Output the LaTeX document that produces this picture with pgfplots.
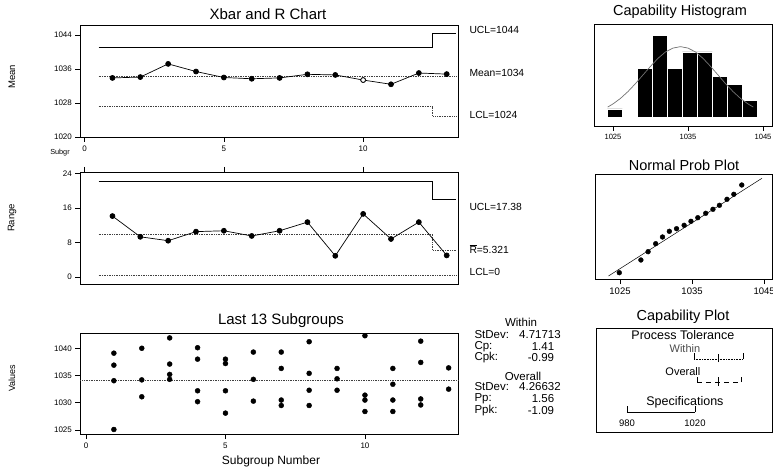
\documentclass[border=0pt]{standalone}
\usepackage{fontspec}
\setmainfont{Liberation Sans}
\usepackage{pgfplots}
\pgfplotsset{compat=1.18}
\newcommand{\fs}[1]{\fontsize{#1}{#1}\selectfont}
\pgfplotsset{
  six/.style={scale only axis, anchor=north west,
    axis line style={line width=0.9pt},
    tick style={black, line width=0.6pt},
    tick align=outside, major tick length=5pt,
    tick label style={font=\fs{8}},
    /pgf/number format/assume math mode=true,
    /pgf/number format/set thousands separator={},
    clip=false},
  lim/.style={black, line width=0.6pt},
  cen/.style={black!75, line width=0.7pt, densely dotted},
  pt/.style={black, line width=0.7pt, mark=*, mark size=2.5pt, mark options={solid, fill=black}},
}
\begin{document}
\begin{tikzpicture}
\path[use as bounding box] (0pt,0pt) rectangle (773pt,-470pt);
% ---------------- Xbar chart
\begin{axis}[six, at={(80.4pt,-25pt)}, width=378pt, height=112pt,
  xmin=-0.151, xmax=13.42, ymin=1020, ymax=1046.35,
  xtick={0,5,10}, ytick={1020,1028,1036,1044}, xtick pos=bottom, ytick pos=left]
\addplot[lim] coordinates {(0.5,1041.1)(12.5,1041.1)(12.5,1044.5)(13.35,1044.5)};
\addplot[cen] coordinates {(0.5,1034.2)(13.35,1034.2)};
\addplot[cen] coordinates {(0.5,1027.3)(12.5,1027.3)(12.5,1024.9)(13.35,1024.9)};
\addplot[pt] coordinates {(1,1033.9)(2,1034.1)(3,1037.2)(4,1035.4)(5,1034.0)(6,1033.7)(7,1033.9)(8,1034.75)(9,1034.6)(10,1033.4)(11,1032.4)(12,1035.05)(13,1034.8)};
\addplot[only marks, mark=*, mark size=2.3pt, mark options={fill=white, draw=black, line width=0.6pt}] coordinates {(10,1033.4)};
\end{axis}
% ---------------- Range chart
\begin{axis}[six, at={(80.4pt,-172pt)}, width=378pt, height=112pt,
  xmin=-0.151, xmax=13.42, ymin=-1.62, ymax=24.3,
  xtick={0,5,10}, xticklabels={}, ytick={0,8,16,24}, xtick pos=top, ytick pos=left]
\addplot[lim] coordinates {(0.5,22.1)(12.5,22.1)(12.5,17.9)(13.35,17.9)};
\addplot[cen] coordinates {(0.5,9.8)(12.5,9.8)(12.5,6.2)(13.35,6.2)};
\addplot[cen] coordinates {(0.5,0.3)(13.35,0.3)};
\addplot[pt] coordinates {(1,14.1)(2,9.3)(3,8.4)(4,10.5)(5,10.7)(6,9.5)(7,10.7)(8,12.7)(9,4.9)(10,14.6)(11,8.8)(12,12.7)(13,5.0)};
\end{axis}
% ---------------- Last 13 subgroups
\begin{axis}[six, at={(80.4pt,-333pt)}, width=378pt, height=101pt,
  xmin=-0.2, xmax=13.35, ymin=1024.27, ymax=1042.8,
  xtick={0,5,10}, ytick={1025,1030,1035,1040}, xtick pos=bottom, ytick pos=left]
\addplot[cen] coordinates {(-0.2,1034.2)(13.35,1034.2)};
\addplot[only marks, mark=*, mark size=2.5pt, black] coordinates {
(1,1039.1)(1,1036.9)(1,1034.05)(1,1025.1)
(2,1040)(2,1034.2)(2,1031.1)
(3,1041.9)(3,1037.1)(3,1035.2)(3,1034.3)
(4,1040.1)(4,1038)(4,1032.2)(4,1030.2)
(5,1038)(5,1037.2)(5,1032.2)(5,1028.1)
(6,1039.3)(6,1034.3)(6,1030.3)
(7,1039.3)(7,1036.3)(7,1030.5)(7,1029.5)
(8,1041.2)(8,1035.4)(8,1032.3)(8,1029.5)
(9,1036.3)(9,1034.4)(9,1032.3)
(10,1042.3)(10,1031.4)(10,1030.5)(10,1028.4)
(11,1036.3)(11,1033.4)(11,1030.5)(11,1028.4)
(12,1041.3)(12,1037.4)(12,1030.7)(12,1029.6)
(13,1036.4)(13,1032.5)};
\end{axis}
% ---------------- Capability histogram
\begin{axis}[six, at={(594pt,-24pt)}, width=178pt, height=102pt,
  xmin=1022.47, xmax=1046.2, ymin=-1.1, ymax=11.43,
  xtick={1025,1035,1045}, ytick=\empty, xtick pos=bottom,
  tick label style={font=\fs{7.6}}]
\addplot[ybar interval, fill=black, draw=white, line width=0.6pt] coordinates {
(1024.25,1)(1026.25,0)(1028.25,6)(1030.25,10)(1032.25,6)(1034.25,8)(1036.25,8)(1038.25,5)(1040.25,4)(1042.25,2)(1044.25,2)};
\addplot[black!55, line width=0.7pt] coordinates {
(1024.3,1.23)(1025,1.61)(1026,2.29)(1027,3.13)(1028,4.11)(1029,5.17)(1030,6.23)(1031,7.21)(1032,8.0)(1033,8.47)(1034,8.65)(1035,8.47)(1036,8.0)(1037,7.21)(1038,6.23)(1039,5.17)(1040,4.11)(1041,3.13)(1042,2.29)(1043,1.61)(1043.7,1.23)};
\end{axis}
% ---------------- Normal prob plot
\begin{axis}[six, at={(595pt,-174pt)}, width=177pt, height=105pt,
  xmin=1021.53, xmax=1046.1, ymin=0, ymax=105,
  xtick={1025,1035,1045}, ytick=\empty, xtick pos=bottom,
  tick label style={font=\fs{9.5}}]
\addplot[black, line width=0.5pt] coordinates {(1023.4,3)(1044.7,100.7)};
\addplot[only marks, mark=*, mark size=2.4pt, black] coordinates {
(1024.9,6.3)(1027.9,19)(1028.9,27.3)(1029.95,35.3)(1030.9,42)(1031.85,47.7)(1032.85,50.3)(1033.9,53.7)(1034.85,57.7)(1035.8,61.3)(1036.9,65.7)(1037.9,69.7)(1038.8,73.7)(1039.85,79.7)(1040.8,84.7)(1041.9,94)};
\end{axis}
% ---------------- Capability plot
\begin{axis}[six, at={(596pt,-328pt)}, width=176pt, height=104pt,
  xmin=961.8, xmax=1065.3, ymin=0, ymax=104, xtick=\empty, ytick=\empty]
\addplot[black, line width=0.6pt, densely dotted] coordinates {(1019.4,73)(1048.2,73)};
\addplot[black, line width=0.6pt] coordinates {(1019.4,73)(1019.4,79)};
\addplot[black, line width=0.6pt] coordinates {(1048.2,73)(1048.2,79)};
\addplot[black, line width=0.6pt] coordinates {(1033.7,70)(1033.7,78)};
\addplot[black, line width=0.7pt, dash pattern=on 5pt off 4pt] coordinates {(1021.2,50)(1047,50)};
\addplot[black, line width=0.7pt] coordinates {(1021.2,50)(1021.2,55)};
\addplot[black, line width=0.7pt] coordinates {(1047,50)(1047,55)};
\addplot[black, line width=0.7pt] coordinates {(1034,46)(1034,55)};
\addplot[black, line width=0.7pt] coordinates {(980,20)(1020,20)};
\addplot[black, line width=0.7pt] coordinates {(980,20)(980,26)};
\addplot[black, line width=0.7pt] coordinates {(1020,20)(1020,26)};
\node[font=\fs{12.5}] at (axis cs:1012.9,97) {Process Tolerance};
\node[font=\fs{11}, text=black!70] at (axis cs:1014.1,83) {Within};
\node[font=\fs{11}] at (axis cs:1012.9,60) {Overall};
\node[font=\fs{12.5}] at (axis cs:1014.1,30) {Specifications};
\node[font=\fs{9.5}] at (axis cs:980,9) {980};
\node[font=\fs{9.5}] at (axis cs:1020,9) {1020};
\end{axis}
% ---------------- titles and labels
\node[font=\fs{15}] at (268pt,-14pt) {Xbar and R Chart};
\node[font=\fs{14.5}] at (680pt,-12pt) {Capability Histogram};
\node[font=\fs{14.5}] at (684pt,-165pt) {Normal Prob Plot};
\node[font=\fs{15}] at (281pt,-321pt) {Last 13 Subgroups};
\node[font=\fs{14.5}] at (683pt,-317pt) {Capability Plot};
\node[font=\fs{9.5}, rotate=90] at (12pt,-77pt) {Mean};
\node[font=\fs{9.5}, rotate=90] at (12pt,-218pt) {Range};
\node[font=\fs{9}, rotate=90] at (12pt,-378pt) {Values};
\node[font=\fs{7.3}] at (60pt,-153pt) {Subgr};
\node[font=\fs{12}] at (271pt,-461pt) {Subgroup Number};
\node[font=\fs{10.3}, anchor=west] at (466pt,-30pt) {UCL=1044};
\node[font=\fs{10.3}, anchor=west] at (466pt,-73pt) {Mean=1034};
\node[font=\fs{10.3}, anchor=west] at (466pt,-115pt) {LCL=1024};
\node[font=\fs{10.3}, anchor=west] at (466pt,-207pt) {UCL=17.38};
\node[font=\fs{10.3}, anchor=west] at (466pt,-249pt) {$\overline{\hbox{R}}$=5.321};
\node[font=\fs{10.3}, anchor=west] at (466pt,-272pt) {LCL=0};
% stats block
\node[font=\fs{11.5}] at (521pt,-322pt) {Within};
\node[font=\fs{11.5}, anchor=west] at (471pt,-335pt) {StDev:};
\node[font=\fs{11.5}] at (540pt,-335pt) {4.71713};
\node[font=\fs{11.5}, anchor=west] at (471pt,-347pt) {Cp:};
\node[font=\fs{11.5}] at (543pt,-347pt) {1.41};
\node[font=\fs{11.5}, anchor=west] at (471pt,-358pt) {Cpk:};
\node[font=\fs{11.5}] at (541pt,-358pt) {-0.99};
\node[font=\fs{11.5}] at (523pt,-376pt) {Overall};
\node[font=\fs{11.5}, anchor=west] at (471pt,-387pt) {StDev:};
\node[font=\fs{11.5}] at (540pt,-387pt) {4.26632};
\node[font=\fs{11.5}, anchor=west] at (471pt,-399pt) {Pp:};
\node[font=\fs{11.5}] at (543pt,-399pt) {1.56};
\node[font=\fs{11.5}, anchor=west] at (471pt,-411pt) {Ppk:};
\node[font=\fs{11.5}] at (541pt,-411pt) {-1.09};
\end{tikzpicture}
\end{document}
